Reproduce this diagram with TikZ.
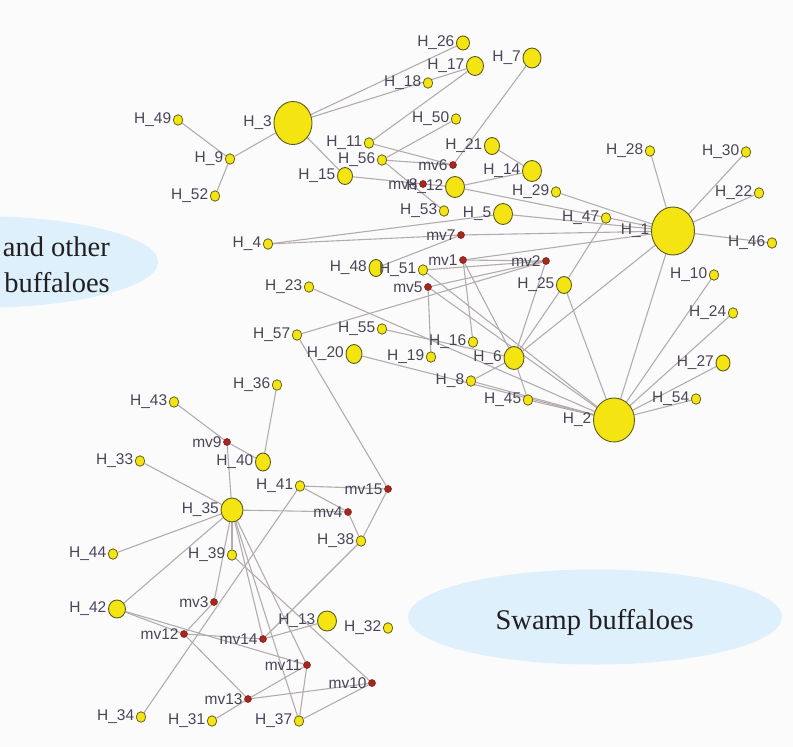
\documentclass[tikz,border=0pt]{standalone}
\usepackage{fontspec}
\setmainfont{Liberation Serif}
\newfontfamily\lblfont{Liberation Sans}
\usetikzlibrary{shapes.geometric}
\definecolor{edgec}{HTML}{B3ACAD}
\definecolor{yel}{HTML}{F3E412}
\definecolor{yelb}{HTML}{5E5A1E}
\definecolor{redn}{HTML}{A8261E}
\definecolor{redb}{HTML}{6E1A14}
\definecolor{lblc}{HTML}{4A4458}
\definecolor{ellc}{HTML}{DDF0FC}
\definecolor{bgc}{HTML}{FBFBFB}
\definecolor{txtc}{HTML}{231F20}
\pgfdeclarelayer{edges}
\pgfdeclarelayer{bg}
\pgfsetlayers{bg,edges,main}
\tikzset{
  hn/.style={ellipse, draw=yelb, fill=yel, line width=0.9pt, inner sep=0pt},
  hsz/.style 2 args={hn, minimum width=#1pt, minimum height=#2pt},
  mid/.style={hsz={19}{21}},
  med/.style={hsz={15}{17}},
  sml/.style={hn, minimum width=9.5pt, minimum height=10.5pt, line width=0.75pt},
  mvn/.style={circle, draw=redb, fill=redn, minimum size=7pt, inner sep=0pt, line width=0.5pt},
  lbl/.style={font=\lblfont\fontsize{15.5}{15.5}\selectfont, text=lblc, inner sep=0.5pt},
  every label/.style={lbl},
  label distance=1pt,
  ed/.style={draw=edgec, line width=1.1pt},
  bigtxt/.style={font=\fontsize{28.5}{28.5}\selectfont, text=txtc, inner sep=0pt}
}
\begin{document}
\begin{tikzpicture}[x=1pt,y=-1pt]
\useasboundingbox (0,0) rectangle (793,747);
\clip (0,0) rectangle (793,747);
\begin{pgfonlayer}{bg}
\fill[bgc] (0,0) rectangle (793,747);
\fill[ellc] (-25,262) ellipse [x radius=183, y radius=46];
\fill[ellc] (595,617) ellipse [x radius=187, y radius=47.5];
\end{pgfonlayer}
\node[bigtxt, anchor=base east] (t1) at (110,256.7) {and other};
\node[bigtxt, anchor=base east] (t2) at (110,292.7) {buffaloes};
\node[bigtxt, anchor=base] (t3) at (594.7,629.3) {Swamp buffaloes};

% nodes
\node[sml, label={left:H\_49}] (H49) at (178,120) {};
\node[sml, label={left:H\_9}] (H9) at (230,159) {};
\node[sml, label={left:H\_52}] (H52) at (215,196) {};
\node[hsz={38}{43}, label={left:H\_3}] (H3) at (293,123) {};
\node[hsz={13}{14}, label={left:H\_26}] (H26) at (463,43) {};
\node[hsz={17}{19}, label={left:H\_17}] (H17) at (475,66) {};
\node[hsz={18}{20}, label={left:H\_7}] (H7) at (532,58) {};
\node[sml, label={left:H\_18}] (H18) at (428,83) {};
\node[sml, label={left:H\_50}] (H50) at (456,119) {};
\node[sml, label={left:H\_11}] (H11) at (369,143) {};
\node[sml, label={left:H\_56}] (H56) at (382,160) {};
\node[med, label={left:H\_21}] (H21) at (492,146) {};
\node[mid, label={left:H\_14}] (H14) at (532,171) {};
\node[mvn, label={left:mv6}] (mv6) at (453,165) {};
\node[mid, label={left:H\_12}] (H12) at (455,187) {};
\node[mvn, label={left:mv8}] (mv8) at (423,184) {};
\node[med, label={left:H\_15}] (H15) at (345,176) {};
\node[sml, label={left:H\_29}] (H29) at (556,192) {};
\node[sml, label={left:H\_53}] (H53) at (444,211) {};
\node[mid, label={left:H\_5}] (H5) at (503,214) {};
\node[sml, label={left:H\_47}] (H47) at (606,218) {};
\node[sml, label={left:H\_28}] (H28) at (650,151) {};
\node[sml, label={left:H\_30}] (H30) at (746,152) {};
\node[sml, label={left:H\_22}] (H22) at (759,193) {};
\node[hsz={43}{48}, label={left:H\_1}] (H1) at (673,231) {};
\node[sml, label={left:H\_46}] (H46) at (772,243) {};
\node[sml, label={left:H\_10}] (H10) at (714,275) {};
\node[sml, label={left:H\_24}] (H24) at (733,313) {};
\node[sml, label={left:H\_4}] (H4) at (268,244) {};
\node[mvn, label={left:mv7}] (mv7) at (461,235) {};
\node[hsz={14}{17}, label={left:H\_48}] (H48) at (376,268) {};
\node[sml, label={left:H\_51}] (H51) at (423,270) {};
\node[mvn, label={left:mv1}] (mv1) at (463,260) {};
\node[mvn, label={left:mv2}] (mv2) at (546,261) {};
\node[mvn, label={left:mv5}] (mv5) at (428,287) {};
\node[med, label={left:H\_25}] (H25) at (564,285) {};
\node[sml, label={left:H\_23}] (H23) at (309,287) {};
\node[sml, label={left:H\_57}] (H57) at (297,335) {};
\node[sml, label={left:H\_55}] (H55) at (382,329) {};
\node[sml, label={left:H\_16}] (H16) at (473,342) {};
\node[hsz={16}{19}, label={left:H\_20}] (H20) at (354,354) {};
\node[sml, label={left:H\_19}] (H19) at (431,357) {};
\node[hsz={20}{23}, label={left:H\_6}] (H6) at (514,358) {};
\node[sml, label={left:H\_8}] (H8) at (471,381) {};
\node[sml, label={left:H\_45}] (H45) at (528,400) {};
\node[hsz={41}{44}, label={left:H\_2}] (H2) at (614,420) {};
\node[hsz={14}{16}, label={left:H\_27}] (H27) at (723,363) {};
\node[sml, label={left:H\_54}] (H54) at (696,399) {};
\node[sml, label={left:H\_36}] (H36) at (277,385) {};
\node[sml, label={left:H\_43}] (H43) at (174,402) {};
\node[mvn, label={left:mv9}] (mv9) at (227,442) {};
\node[sml, label={left:H\_33}] (H33) at (140,461) {};
\node[hsz={15}{18}, label={left:H\_40}] (H40) at (263,462) {};
\node[sml, label={left:H\_41}] (H41) at (300,486) {};
\node[mvn, label={left:mv15}] (mv15) at (388,489) {};
\node[hsz={22}{24}, label={left:H\_35}] (H35) at (232,510) {};
\node[mvn, label={left:mv4}] (mv4) at (348,512) {};
\node[sml, label={left:H\_38}] (H38) at (361,541) {};
\node[sml, label={left:H\_44}] (H44) at (113,554) {};
\node[sml, label={left:H\_39}] (H39) at (232,555) {};
\node[mvn, label={left:mv3}] (mv3) at (214,602) {};
\node[hsz={17}{18}, label={left:H\_42}] (H42) at (117,609) {};
\node[mvn, label={left:mv12}] (mv12) at (184,634) {};
\node[hsz={19}{20}, label={left:H\_13}] (H13) at (327,621) {};
\node[sml, label={left:H\_32}] (H32) at (388,628) {};
\node[mvn, label={left:mv14}] (mv14) at (263,639) {};
\node[mvn, label={left:mv11}] (mv11) at (307,665) {};
\node[mvn, label={left:mv10}] (mv10) at (372,683) {};
\node[mvn, label={left:mv13}] (mv13) at (248,699) {};
\node[sml, label={left:H\_34}] (H34) at (141,717) {};
\node[sml, label={left:H\_31}] (H31) at (212,721) {};
\node[sml, label={left:H\_37}] (H37) at (299,721) {};

\begin{pgfonlayer}{edges}
\foreach \a/\b in {H49/H9, H52/H9, H9/H3, H3/H26, H3/H17, H3/H15, H11/H17, H11/mv6,
  H56/H50, H56/mv6, H56/H53, H15/mv8, mv8/H12, H7/mv6, H12/H14, H21/H14, H12/H1,
  H29/H1, H28/H1, H30/H1, H22/H1, H46/H1, H5/H1, H4/H5, H4/mv7, mv7/H1, H48/mv7,
  mv1/H1, mv1/mv2, H51/mv2, mv5/mv2, mv5/H19, mv5/H2, H47/H25, H25/H6, H25/H2,
  H6/H1, H1/H2, mv2/H6, mv1/H6, H10/H2, H24/H2, H27/H2, H54/H2, H23/H2, H55/H6,
  H57/mv2, H57/mv15, H20/H2, H45/H6, H45/H2, H8/H6, H8/H2, H51/H2, mv1/H16,
  H43/mv9, H36/H40, mv9/H40, mv9/H35, H33/H35, H35/mv4, H41/mv15, H41/mv4,
  mv4/H38, mv15/H38, H41/H34, H38/mv14, H44/H35, H42/H35, H35/H39, H35/mv3,
  mv3/mv12, H42/mv12, H42/mv11, mv12/mv14, mv12/mv13, mv13/H31, mv13/mv11,
  mv13/mv10, mv11/H37, mv10/H37, H39/mv10, H13/mv14, H35/H37, H35/mv11, H35/mv14}
  \draw[ed] (\a) -- (\b);
\end{pgfonlayer}
\end{tikzpicture}
\end{document}
